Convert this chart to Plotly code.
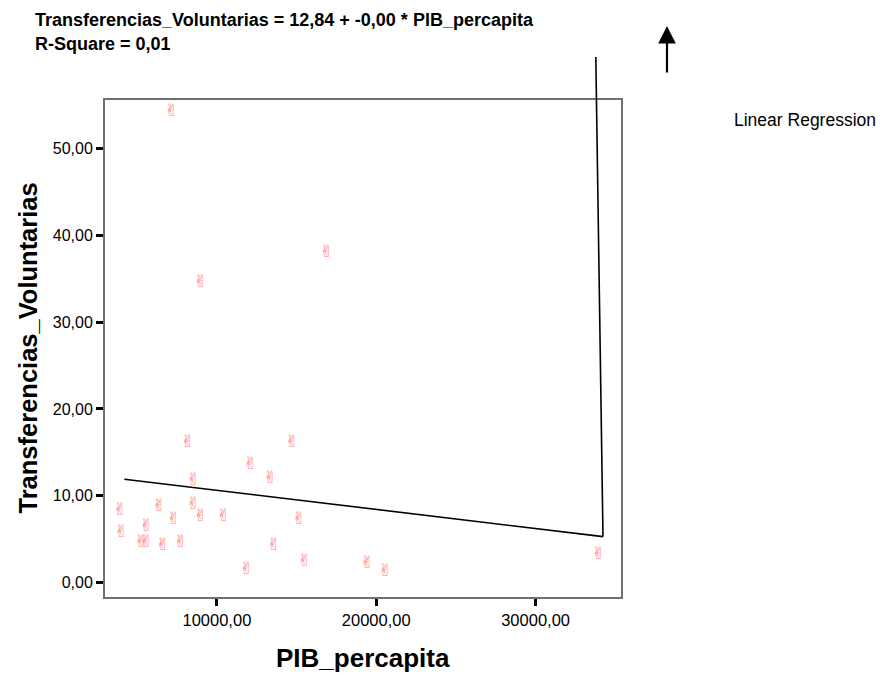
import plotly.graph_objects as go

# ---- data ----
pib_percapita = [7420, 17150, 9244, 8447, 14986, 12388, 13625, 8785, 4193, 6646,
                 8785, 7546, 9244, 10690, 15426, 5847, 4275, 5514, 5847, 6873,
                 8005, 13835, 15766, 12137, 19703, 20835, 34231]
transferencias = [54.2, 38.0, 34.5, 16.15, 16.15, 13.6, 12.0, 11.7, 8.24, 8.7,
                  9.0, 7.3, 7.6, 7.6, 7.3, 6.5, 5.7, 4.6, 4.6, 4.3,
                  4.6, 4.3, 2.4, 1.5, 2.2, 1.3, 3.25]

reg_intercept = 12.84
reg_slope = -0.00022

x_tickvals = [10000, 20000, 30000]
x_ticktext = ["10000,00", "20000,00", "30000,00"]
y_tickvals = [0, 10, 20, 30, 40, 50]
y_ticktext = ["0,00", "10,00", "20,00", "30,00", "40,00", "50,00"]

x_range = [2978, 35361]
y_range = [-1.64, 55.55]

title_line1 = "Transferencias_Voluntarias = 12,84 + -0,00 * PIB_percapita"
title_line2 = "R-Square = 0,01"

# ---- build ----
reg_x = [min(pib_percapita), max(pib_percapita)]
reg_y = [reg_intercept + reg_slope * v for v in reg_x]

fig = go.Figure()
# the marker glyph sits slightly left of its point (trailing en space)
fig.add_trace(go.Scatter(
    x=pib_percapita, y=transferencias, mode="text",
    text=["✌\u2002"] * len(pib_percapita),
    textposition="middle center",
    textfont=dict(family="DejaVu Sans", size=17, color="#ff8080"),
    showlegend=False, hoverinfo="x+y"))
fig.add_trace(go.Scatter(
    x=reg_x, y=reg_y, mode="lines", line=dict(color="black", width=1.6),
    showlegend=False))

def paper_y(v):
    return (v - y_range[0]) / (y_range[1] - y_range[0])

# legend line artifact rising from the end of the fit line
fig.add_shape(type="line", xref="x", yref="paper",
              x0=reg_x[1], y0=paper_y(reg_y[1]), x1=reg_x[1] - 450, y1=1.0865,
              line=dict(color="black", width=1.6))

font = "Liberation Sans, Arial, sans-serif"
# page body has an 8px margin, so the figure is 8px smaller and sits at (8, 8)
fig.update_layout(
    width=880, height=665,
    margin=dict(l=97, r=267, t=92, b=76),
    paper_bgcolor="white", plot_bgcolor="white",
    font=dict(family=font, color="black"),
    xaxis=dict(range=x_range, tickvals=x_tickvals, ticktext=x_ticktext,
               showgrid=False, zeroline=False, showline=True, mirror=True,
               linecolor="#707070", linewidth=2, ticks="outside", ticklen=7,
               tickwidth=3, tickcolor="black", tickfont=dict(size=16.5, family=font)),
    yaxis=dict(range=y_range, tickvals=y_tickvals, ticktext=y_ticktext,
               showgrid=False, zeroline=False, showline=True, mirror=True,
               linecolor="#707070", linewidth=2, ticks="outside", ticklen=7,
               tickwidth=3, tickcolor="black", tickfont=dict(size=16, family=font)),
)

def px_x(p):
    return (p - 105) / 516

def px_y(p):
    return (597 - p) / 497

annotations = [
    dict(text="<b>" + title_line1 + "</b>", x=px_x(33), y=px_y(20), xref="paper", yref="paper",
         xanchor="left", yanchor="middle", showarrow=False, font=dict(size=18, family=font)),
    dict(text="<b>" + title_line2 + "</b>", x=px_x(33), y=px_y(44), xref="paper", yref="paper",
         xanchor="left", yanchor="middle", showarrow=False, font=dict(size=18, family=font)),
    dict(text="<b>Transferencias_Voluntarias</b>", x=px_x(27), y=0.5, xref="paper", yref="paper",
         xanchor="center", yanchor="middle", textangle=-90, showarrow=False,
         font=dict(size=25.5, family=font)),
    dict(text="<b>PIB_percapita</b>", x=0.5, y=px_y(658), xref="paper", yref="paper",
         xanchor="center", yanchor="middle", showarrow=False, font=dict(size=26, family=font)),
    dict(text="Linear Regression", x=px_x(732), y=px_y(120), xref="paper", yref="paper",
         xanchor="left", yanchor="middle", showarrow=False, font=dict(size=17.5, family=font)),
    dict(text="", x=px_x(667), y=px_y(26), xref="paper", yref="paper",
         ax=0, ay=48, showarrow=True, arrowhead=2, arrowsize=1.6, arrowwidth=2.2,
         arrowcolor="black"),
]
fig.update_layout(annotations=annotations)

fig.write_html("out.html")
